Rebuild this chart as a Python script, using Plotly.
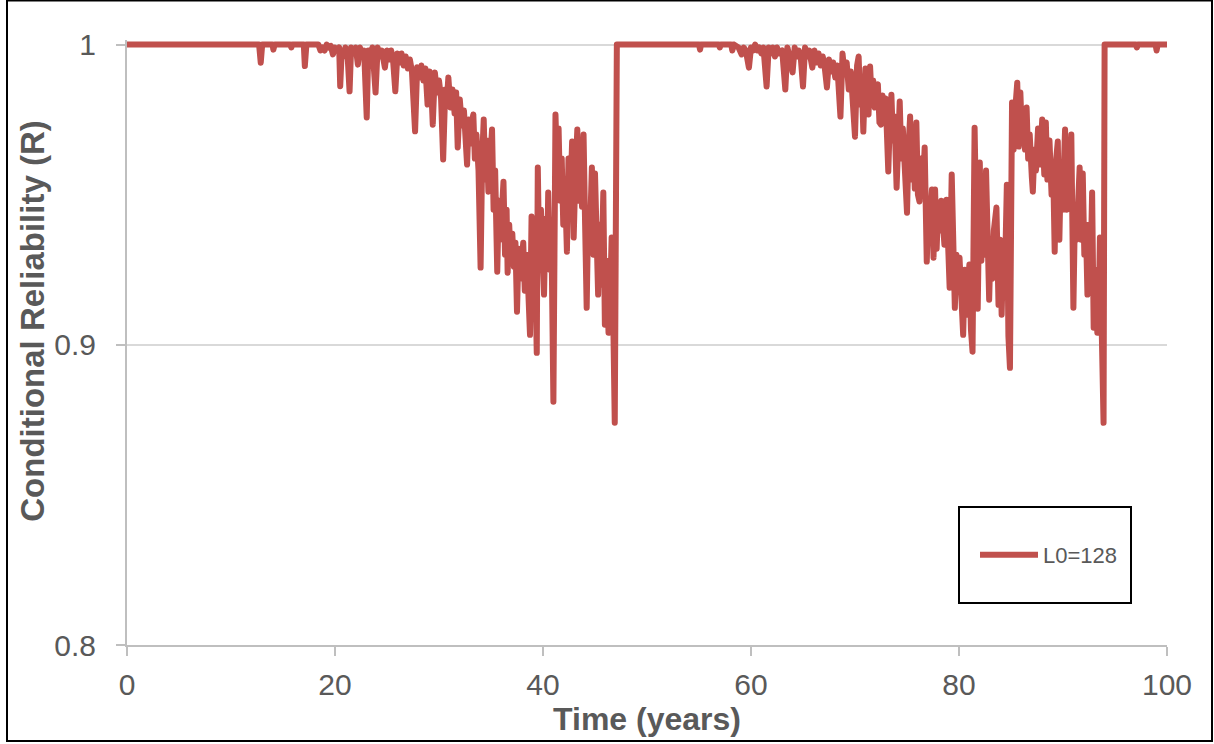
import plotly.graph_objects as go

# ---- data ----
series_name = "L0=128"

time_years = [
    0, 12.7, 12.86, 13.0, 14.0, 14.07, 14.2, 15.7, 15.8, 15.9, 17.0, 17.1, 17.25, 18.4, 18.6, 18.8,
    19.0, 19.2, 19.4, 19.6, 19.8, 20.0, 20.2, 20.4, 20.5, 20.65, 20.8, 21.0, 21.2, 21.4, 21.55, 21.8,
    22.0, 22.2, 22.4, 22.6, 22.8, 23.05, 23.2, 23.4, 23.6, 23.9, 24.1, 24.3, 24.5, 24.8, 25.0, 25.2,
    25.4, 25.6, 25.8, 26.0, 26.2, 26.4, 26.6, 26.8, 27.0, 27.2, 27.4, 27.7, 27.9, 28.1, 28.3, 28.5,
    28.7, 28.9, 29.1, 29.25, 29.4, 29.6, 29.8, 30.0, 30.2, 30.4, 30.6, 30.75, 30.9, 31.1, 31.3, 31.5,
    31.65, 31.8, 32.0, 32.2, 32.4, 32.55, 32.7, 32.85, 33.0, 33.15, 33.3, 33.45, 33.6, 33.8, 34.0, 34.15,
    34.3, 34.45, 34.6, 34.75, 34.9, 35.1, 35.25, 35.4, 35.6, 35.75, 35.9, 36.05, 36.2, 36.35, 36.5, 36.6,
    36.75, 36.9, 37.05, 37.2, 37.35, 37.5, 37.65, 37.8, 37.95, 38.1, 38.25, 38.4, 38.55, 38.75, 38.9, 39.05,
    39.2, 39.4, 39.5, 39.65, 39.8, 39.95, 40.1, 40.25, 40.4, 40.5, 40.65, 40.8, 41.0, 41.2, 41.35, 41.5,
    41.65, 41.8, 41.95, 42.1, 42.3, 42.45, 42.6, 42.8, 42.95, 43.1, 43.3, 43.45, 43.6, 43.75, 43.9, 44.05,
    44.2, 44.35, 44.5, 44.7, 44.85, 45.0, 45.15, 45.3, 45.45, 45.6, 45.8, 45.95, 46.1, 46.3, 46.45, 46.6,
    46.75, 46.9, 47.1,
    55.0, 55.1, 55.2, 56.9, 57.0, 57.1, 58.1, 58.2, 58.35, 58.8, 59.1, 59.3, 59.5, 59.8, 60.0, 60.2,
    60.4, 60.6, 60.8, 61.0, 61.2, 61.5, 61.7, 61.9, 62.1, 62.3, 62.5, 62.7, 63.0, 63.3, 63.5, 63.7,
    64.0, 64.2, 64.4, 64.6, 64.8, 65.0, 65.2, 65.4, 65.6, 65.9, 66.1, 66.3, 66.5, 66.7, 66.9, 67.1,
    67.3, 67.5, 67.7, 67.9, 68.1, 68.3, 68.6, 68.8, 69.0, 69.2, 69.4, 69.6, 69.8, 70.0, 70.2, 70.35,
    70.5, 70.65, 70.8, 71.0, 71.15, 71.3, 71.45, 71.6, 71.75, 71.9, 72.05, 72.2, 72.35, 72.5, 72.65, 72.8,
    72.95, 73.2, 73.35, 73.5, 73.65, 73.8, 74.0, 74.15, 74.3, 74.45, 74.6, 74.8, 75.0, 75.15, 75.3, 75.45,
    75.6, 75.75, 75.9, 76.05, 76.2, 76.35, 76.5, 76.7, 76.9, 77.05, 77.2, 77.4, 77.55, 77.7, 77.85, 78.0,
    78.15, 78.3, 78.45, 78.6, 78.8, 78.95, 79.1, 79.3, 79.45, 79.6, 79.75, 79.9, 80.05, 80.2, 80.4, 80.55,
    80.7, 80.85, 81.0, 81.15, 81.3, 81.5, 81.65, 81.8, 82.0, 82.15, 82.3, 82.45, 82.6, 82.75, 82.9, 83.05,
    83.2, 83.35, 83.6, 83.8, 83.95, 84.1, 84.25, 84.4, 84.6, 84.75, 84.9, 85.1, 85.25, 85.4, 85.6, 85.75,
    85.9, 86.05, 86.2, 86.35, 86.5, 86.65, 86.8, 87.0, 87.1, 87.25, 87.4, 87.6, 87.8, 88.0, 88.2, 88.35,
    88.5, 88.7, 88.9, 89.05, 89.2, 89.35, 89.5, 89.65, 89.8, 89.95, 90.2, 90.35, 90.5, 90.65, 90.8, 91.0,
    91.15, 91.3, 91.45, 91.6, 91.75, 91.9, 92.05, 92.2, 92.35, 92.5, 92.65, 92.8, 92.95, 93.1, 93.3, 93.45,
    93.55, 93.7, 93.9, 94.0, 97.0, 97.1, 97.2, 98.9, 99.0, 99.1, 100,
]

reliability = [
    1, 1, 0.9939, 1, 1, 0.9983, 1, 1, 0.999, 1, 1, 0.9928, 1, 1, 0.998, 0.999,
    0.998, 1.0, 0.999, 0.9995, 0.9967, 0.999, 0.998, 0.999, 0.9861, 0.998, 0.996, 0.999, 0.997, 0.9844, 0.999, 0.997,
    0.999, 0.9933, 0.999, 0.996, 0.998, 0.9757, 0.998, 0.996, 0.999, 0.984, 0.999, 0.996, 0.998, 0.9923, 0.998, 0.995,
    0.998, 0.994, 0.9844, 0.997, 0.994, 0.997, 0.993, 0.996, 0.992, 0.995, 0.991, 0.9711, 0.9924, 0.989, 0.993, 0.988,
    0.992, 0.98, 0.991, 0.986, 0.9733, 0.9907, 0.984, 0.988, 0.982, 0.9617, 0.985, 0.981, 0.989, 0.979, 0.985, 0.977,
    0.984, 0.9657, 0.9817, 0.973, 0.978, 0.969, 0.96, 0.975, 0.967, 0.974, 0.9767, 0.962, 0.97, 0.958, 0.9257, 0.962,
    0.975, 0.955, 0.968, 0.951, 0.966, 0.9717, 0.945, 0.958, 0.9243, 0.948, 0.935, 0.946, 0.9543, 0.93, 0.945, 0.924,
    0.94, 0.928, 0.937, 0.926, 0.934, 0.911, 0.932, 0.922, 0.93, 0.934, 0.918, 0.93, 0.921, 0.9033, 0.9427, 0.918,
    0.935, 0.8973, 0.959, 0.925, 0.945, 0.922, 0.9167, 0.942, 0.928, 0.9507, 0.925, 0.94, 0.881, 0.9767, 0.958, 0.972,
    0.948, 0.962, 0.94, 0.955, 0.931, 0.962, 0.945, 0.9677, 0.9357, 0.955, 0.9717, 0.948, 0.962, 0.946, 0.97, 0.94,
    0.9123, 0.945, 0.935, 0.959, 0.93, 0.957, 0.925, 0.9167, 0.94, 0.92, 0.9507, 0.9067, 0.928, 0.904, 0.915, 0.9357,
    0.91, 0.874, 1,
    1, 0.9983, 1, 1, 0.999, 1, 1, 0.998, 1, 0.999, 0.9967, 0.999, 0.998, 0.9923, 0.999, 0.998,
    1.0, 0.998, 0.999, 0.997, 0.999, 0.986, 0.999, 0.997, 0.999, 0.996, 0.999, 0.997, 0.998, 0.985, 0.999, 0.996,
    0.9907, 0.999, 0.996, 0.998, 0.995, 0.986, 0.999, 0.996, 0.998, 0.9923, 0.998, 0.994, 0.997, 0.993, 0.996, 0.992,
    0.9857, 0.995, 0.991, 0.994, 0.989, 0.993, 0.976, 0.997, 0.99, 0.994, 0.985, 0.991, 0.983, 0.9693, 0.993, 0.996,
    0.98, 0.988, 0.971, 0.992, 0.983, 0.9767, 0.9927, 0.982, 0.988, 0.979, 0.986, 0.9867, 0.974, 0.9733, 0.983, 0.978,
    0.982, 0.9577, 0.975, 0.9833, 0.968, 0.976, 0.9523, 0.975, 0.981, 0.962, 0.972, 0.958, 0.944, 0.966, 0.976, 0.955,
    0.968, 0.952, 0.974, 0.95, 0.9477, 0.962, 0.95, 0.9657, 0.9277, 0.945, 0.94, 0.9517, 0.929, 0.9517, 0.932, 0.946,
    0.938, 0.948, 0.935, 0.9333, 0.9483, 0.928, 0.919, 0.9567, 0.925, 0.9123, 0.93, 0.918, 0.929, 0.912, 0.9033, 0.925,
    0.91, 0.92, 0.9267, 0.905, 0.8977, 0.9723, 0.935, 0.912, 0.9607, 0.928, 0.955, 0.93, 0.958, 0.925, 0.915, 0.935,
    0.922, 0.938, 0.9457, 0.9133, 0.935, 0.91, 0.932, 0.92, 0.9533, 0.903, 0.8923, 0.9807, 0.965, 0.978, 0.9873, 0.966,
    0.984, 0.97, 0.978, 0.965, 0.979, 0.962, 0.97, 0.956, 0.951, 0.965, 0.958, 0.972, 0.96, 0.975, 0.9567, 0.974,
    0.955, 0.968, 0.95, 0.96, 0.931, 0.962, 0.9677, 0.935, 0.96, 0.945, 0.9717, 0.945, 0.958, 0.948, 0.97, 0.9123,
    0.945, 0.935, 0.955, 0.959, 0.935, 0.957, 0.93, 0.94, 0.9167, 0.94, 0.925, 0.9507, 0.9057, 0.925, 0.904, 0.915,
    0.9357, 0.91, 0.874, 1, 1, 0.999, 1, 1, 0.998, 1, 1,
]

x_ticks = [0, 20, 40, 60, 80, 100]
y_ticks = [0.8, 0.9, 1.0]
y_tick_text = ["0.8", "0.9", "1"]

x_title = "Time (years)"
y_title = "Conditional Reliability (R)"

# ---- figure geometry ----
W, H = 1214, 744
left, right, top_px, bottom_px = 127, 1167, 45, 645
y_lo, y_hi = 0.8, 1.0015
px_per_unit = (bottom_px - top_px) / (1.0 - 0.8)
plot_h = (y_hi - y_lo) * px_per_unit
m_t = bottom_px - plot_h
m_b = H - bottom_px
m_l = left
m_r = W - right
pw = right - left


def px_to_paper_x(px):
    return (px - left) / pw


def py_to_paper_y(py):
    return (bottom_px - py) / plot_h


LINE_COLOR = "#C0504D"
TEXT_GRAY = "#595959"
AXIS_GRAY = "#BFBFBF"
GRID_GRAY = "#D9D9D9"
FONT = "Liberation Sans, Arial, sans-serif"

fig = go.Figure()
fig.add_trace(go.Scatter(
    x=time_years, y=reliability, mode="lines", name=series_name,
    line=dict(color=LINE_COLOR, width=6),
    showlegend=True,
))

fig.update_layout(
    width=W, height=H,
    margin=dict(l=m_l, r=m_r, t=m_t, b=m_b, autoexpand=False),
    paper_bgcolor="white", plot_bgcolor="white",
    font=dict(family=FONT, color=TEXT_GRAY),
    showlegend=True,
    legend=dict(
        x=px_to_paper_x(975), y=py_to_paper_y(555), xanchor="left", yanchor="middle",
        bgcolor="rgba(0,0,0,0)", borderwidth=0,
        font=dict(size=22, color=TEXT_GRAY, family=FONT),
        itemwidth=58,
    ),
    xaxis=dict(
        range=[0, 100], tickvals=x_ticks, ticktext=[str(v) for v in x_ticks],
        showgrid=False, zeroline=False,
        showline=True, linecolor=AXIS_GRAY, linewidth=2,
        ticks="outside", ticklen=9, tickcolor=AXIS_GRAY, tickwidth=1.5,
        tickfont=dict(size=30, color=TEXT_GRAY),
        ticklabelstandoff=3,
        title=dict(text="<b>" + x_title + "</b>", font=dict(size=32, color=TEXT_GRAY), standoff=2),
    ),
    yaxis=dict(
        range=[y_lo, y_hi], tickvals=y_ticks, ticktext=y_tick_text,
        showgrid=True, gridcolor=GRID_GRAY, gridwidth=1.5, zeroline=False,
        showline=True, linecolor=AXIS_GRAY, linewidth=2,
        ticks="outside", ticklen=9, tickcolor=AXIS_GRAY, tickwidth=1.5,
        tickfont=dict(size=30, color=TEXT_GRAY),
        ticklabelstandoff=14,
    ),
    annotations=[
        dict(text="<b>" + y_title + "</b>", textangle=-90, showarrow=False,
             xref="paper", yref="paper", x=px_to_paper_x(33), y=py_to_paper_y(321),
             xanchor="center", yanchor="middle",
             font=dict(size=33, color=TEXT_GRAY, family=FONT)),
    ],
    shapes=[
        # legend frame
        dict(type="rect", xref="paper", yref="paper",
             x0=px_to_paper_x(959), x1=px_to_paper_x(1131),
             y0=py_to_paper_y(603), y1=py_to_paper_y(507),
             line=dict(color="black", width=2), fillcolor="rgba(0,0,0,0)", layer="above"),
        # outer chart frame
        dict(type="rect", xref="paper", yref="paper",
             x0=px_to_paper_x(7), x1=px_to_paper_x(1212),
             y0=py_to_paper_y(741), y1=py_to_paper_y(1),
             line=dict(color="black", width=2), fillcolor="rgba(0,0,0,0)", layer="above"),
    ],
)

post = (
    "document.body.style.margin='0';"
    "var st=document.createElement('style');"
    "st.textContent='.scatterlayer path.js-line{stroke-linejoin:round !important;stroke-linecap:round !important;}';"
    "document.head.appendChild(st);"
)
fig.write_html("out.html", post_script=post, config={"displayModeBar": False})
